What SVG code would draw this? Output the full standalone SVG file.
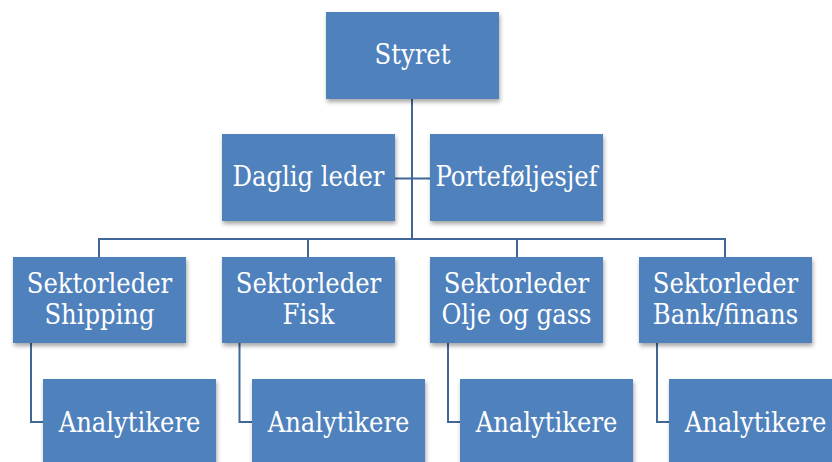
<svg xmlns="http://www.w3.org/2000/svg" width="832" height="462" viewBox="0 0 832 462">
<style>
.box{fill:#4F81BD;filter:url(#sh)}
.t{font-family:"DejaVu Serif Condensed","DejaVu Serif","Liberation Serif",serif;font-stretch:condensed;font-size:27px;fill:#FFFFFF;text-anchor:middle}
.c{fill:none;stroke:#3F6797;stroke-width:2}
</style>
<defs>
<filter id="sh" x="-10%" y="-10%" width="125%" height="130%">
<feDropShadow dx="1" dy="3" stdDeviation="2" flood-color="#000" flood-opacity="0.35"/>
</filter>
</defs>
<rect width="832" height="462" fill="#FFFFFF"/>
<g id="connectors">
<path class="c" d="M412 99V239"/>
<path class="c" d="M395 178.5H430"/>
<path class="c" d="M99 257V239H725V257"/>
<path class="c" d="M308 239V257"/>
<path class="c" d="M517 239V257"/>
<path class="c" d="M31 343V422H43"/>
<path class="c" d="M239.5 343V422H252"/>
<path class="c" d="M448 343V422H460"/>
<path class="c" d="M657 343V422H669"/>
</g>
<g id="styret"><rect class="box" x="326" y="12" width="173" height="87"/><text class="t" x="412.5" y="64">Styret</text></g>
<g id="daglig"><rect class="box" x="222" y="134" width="173" height="87"/><text class="t" x="308.5" y="186">Daglig leder</text></g>
<g id="portefolje"><rect class="box" x="430" y="134" width="173" height="87"/><text class="t" x="516.5" y="186">Porteføljesjef</text></g>
<g id="shipping"><rect class="box" x="13" y="257" width="173" height="86"/><text class="t" x="99.5" y="293">Sektorleder</text><text class="t" x="99.5" y="324">Shipping</text></g>
<g id="fisk"><rect class="box" x="222" y="257" width="173" height="86"/><text class="t" x="308.5" y="293">Sektorleder</text><text class="t" x="308.5" y="324">Fisk</text></g>
<g id="olje"><rect class="box" x="430" y="257" width="173" height="86"/><text class="t" x="516.5" y="293">Sektorleder</text><text class="t" x="516.5" y="324">Olje og gass</text></g>
<g id="bank"><rect class="box" x="639" y="257" width="173" height="86"/><text class="t" x="725.5" y="293">Sektorleder</text><text class="t" x="725.5" y="324">Bank/finans</text></g>
<g id="analytikere1"><rect class="box" x="43" y="379" width="173" height="90"/><text class="t" x="129.5" y="432">Analytikere</text></g>
<g id="analytikere2"><rect class="box" x="252" y="379" width="173" height="90"/><text class="t" x="338.5" y="432">Analytikere</text></g>
<g id="analytikere3"><rect class="box" x="460" y="379" width="173" height="90"/><text class="t" x="546.5" y="432">Analytikere</text></g>
<g id="analytikere4"><rect class="box" x="669" y="379" width="173" height="90"/><text class="t" x="755.5" y="432">Analytikere</text></g>
</svg>
